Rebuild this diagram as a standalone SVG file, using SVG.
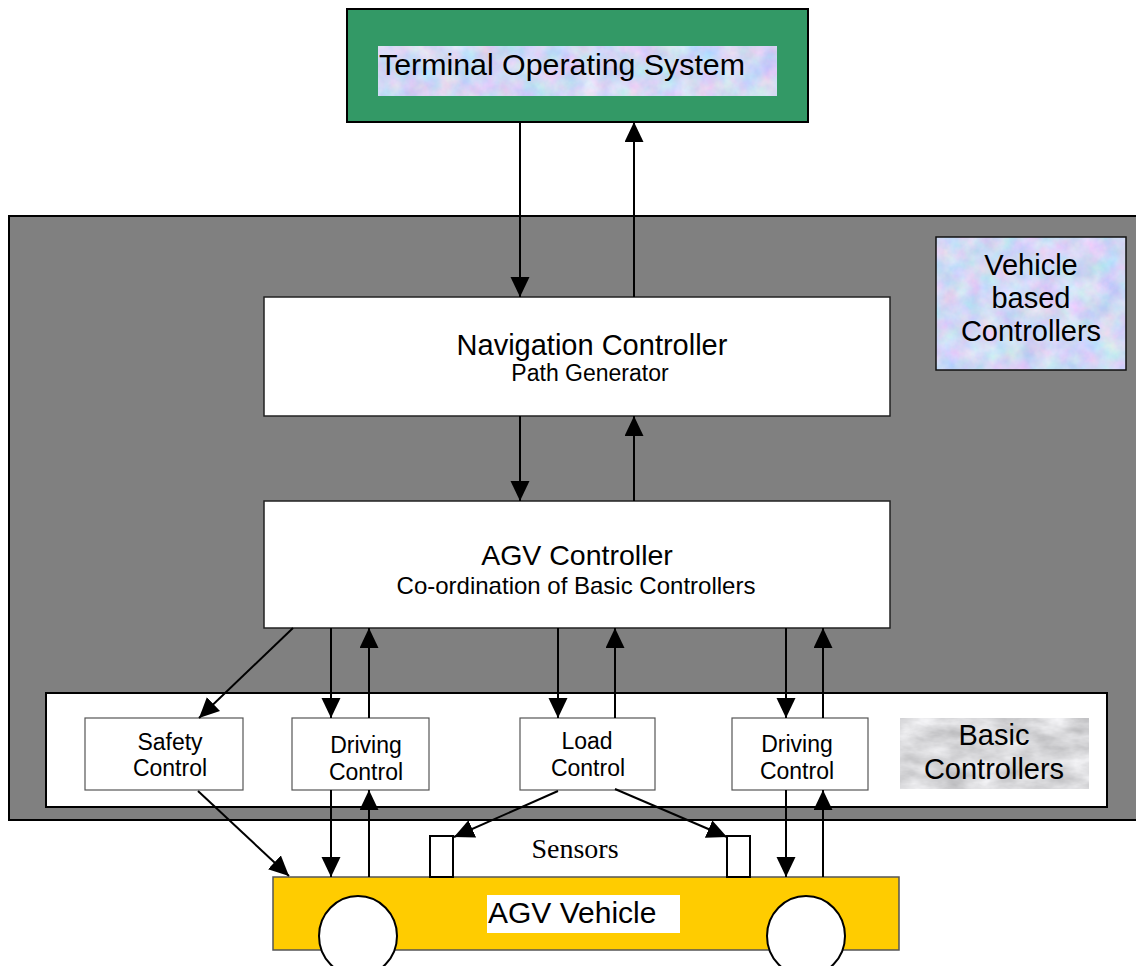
<svg xmlns="http://www.w3.org/2000/svg" width="1136" height="966" viewBox="0 0 1136 966">
  <style>
    .sans { font-family: "Liberation Sans", Arial, sans-serif; fill: #000; }
    .serif { font-family: "Liberation Serif", "Times New Roman", serif; fill: #000; }
    .box { fill: #fff; stroke: #222; stroke-width: 1.5; }
    .small { fill: #fff; stroke: #555; stroke-width: 1.2; }
    .wire { stroke: #000; stroke-width: 2; fill: none; marker-end: url(#head); }
  </style>
  <defs>
    <marker id="head" markerUnits="userSpaceOnUse" markerWidth="20" markerHeight="20" refX="20" refY="9.5" orient="auto">
      <path d="M0,0 L20,9.5 L0,19 Z" fill="#000"/>
    </marker>
    <!-- pastel blue/pink marble -->
    <filter id="pastel" x="0" y="0" width="100%" height="100%" color-interpolation-filters="sRGB">
      <feTurbulence type="fractalNoise" baseFrequency="0.05" numOctaves="4" seed="7" result="n"/>
      <feColorMatrix in="n" type="matrix" values="0.32 0 0 0 0.66  0 0.22 0 0 0.74  0 0 0.12 0 0.9  0 0 0 0 1" result="c"/>
      <feComposite in="c" in2="SourceGraphic" operator="in"/>
    </filter>
    <!-- pale grey stone -->
    <filter id="stone" x="0" y="0" width="100%" height="100%" color-interpolation-filters="sRGB">
      <feTurbulence type="fractalNoise" baseFrequency="0.03 0.07" numOctaves="4" seed="3" result="n"/>
      <feColorMatrix in="n" type="matrix" values="0.3 0 0 0 0.7  0.3 0 0 0 0.7  0.3 0 0 0 0.71  0 0 0 0 1" result="c"/>
      <feComposite in="c" in2="SourceGraphic" operator="in"/>
    </filter>
  </defs>

  <rect width="1136" height="966" fill="#fff"/>

  <!-- terminal operating system -->
  <g id="tos">
    <rect x="347" y="9" width="461" height="113" fill="#339966" stroke="#000" stroke-width="2"/>
    <rect x="378" y="46" width="399" height="50" fill="#fff" filter="url(#pastel)"/>
    <text class="sans" x="379" y="75" font-size="29.5" textLength="366" lengthAdjust="spacingAndGlyphs">Terminal Operating System</text>
  </g>

  <!-- vehicle-based controllers area -->
  <g id="vehicle-panel">
    <rect x="9" y="216" width="1135" height="604" fill="#808080" stroke="#000" stroke-width="2"/>
  </g>

  <g id="vehicle-label">
    <rect x="936" y="237" width="190" height="133" fill="#fff" filter="url(#pastel)"/>
    <rect x="936" y="237" width="190" height="133" fill="none" stroke="#111" stroke-width="1.5"/>
    <text class="sans" x="1031" y="275" font-size="29" text-anchor="middle">Vehicle</text>
    <text class="sans" x="1031" y="308" font-size="29" text-anchor="middle">based</text>
    <text class="sans" x="1031" y="341" font-size="29" text-anchor="middle">Controllers</text>
  </g>

  <g id="navigation-controller">
    <rect class="box" x="264" y="297" width="626" height="119"/>
    <text class="sans" x="592" y="355" font-size="29" text-anchor="middle">Navigation Controller</text>
    <text class="sans" x="590" y="381" font-size="23" text-anchor="middle">Path Generator</text>
  </g>

  <g id="agv-controller">
    <rect class="box" x="264" y="501" width="626" height="127"/>
    <text class="sans" x="577" y="565" font-size="28.5" text-anchor="middle">AGV Controller</text>
    <text class="sans" x="576" y="594" font-size="24" text-anchor="middle">Co-ordination of Basic Controllers</text>
  </g>

  <g id="basic-controllers">
    <rect x="46" y="693" width="1061" height="114" fill="#fff" stroke="#000" stroke-width="2"/>
    <rect x="900" y="718" width="189" height="71" fill="#fff" filter="url(#stone)"/>
    <text class="sans" x="994" y="745" font-size="29" text-anchor="middle">Basic</text>
    <text class="sans" x="994" y="779" font-size="29" text-anchor="middle">Controllers</text>
  </g>

  <g id="safety-control">
    <rect class="small" x="85" y="718" width="158" height="72"/>
    <text class="sans" x="170" y="750" font-size="23" text-anchor="middle">Safety</text>
    <text class="sans" x="170" y="776" font-size="23" text-anchor="middle">Control</text>
  </g>

  <g id="driving-control-1">
    <rect class="small" x="292" y="718" width="137" height="72"/>
    <text class="sans" x="366" y="753" font-size="23" text-anchor="middle">Driving</text>
    <text class="sans" x="366" y="780" font-size="23" text-anchor="middle">Control</text>
  </g>

  <g id="load-control">
    <rect class="small" x="520" y="718" width="135" height="72"/>
    <text class="sans" x="587" y="749" font-size="23" text-anchor="middle">Load</text>
    <text class="sans" x="588" y="776" font-size="23" text-anchor="middle">Control</text>
  </g>

  <g id="driving-control-2">
    <rect class="small" x="732" y="718" width="136" height="72"/>
    <text class="sans" x="797" y="752" font-size="23" text-anchor="middle">Driving</text>
    <text class="sans" x="797" y="779" font-size="23" text-anchor="middle">Control</text>
  </g>

  <g id="agv-vehicle">
    <rect x="273" y="877" width="626" height="73" fill="#ffcc00" stroke="#555" stroke-width="1.5"/>
    <rect x="487" y="895" width="193" height="38" fill="#fff"/>
    <text class="sans" x="488" y="923" font-size="30">AGV Vehicle</text>
    <ellipse cx="358" cy="936" rx="39" ry="40" fill="#fff" stroke="#000" stroke-width="2"/>
    <ellipse cx="806" cy="936" rx="39" ry="40" fill="#fff" stroke="#000" stroke-width="2"/>
  </g>

  <g id="sensors">
    <rect x="430" y="836" width="23" height="41" fill="#fff" stroke="#000" stroke-width="2"/>
    <rect x="727" y="836" width="23" height="41" fill="#fff" stroke="#000" stroke-width="2"/>
    <text class="serif" x="575" y="858" font-size="28" text-anchor="middle">Sensors</text>
  </g>

  <g id="connectors">
    <!-- TOS <-> navigation -->
    <line class="wire" x1="520" y1="122" x2="520" y2="297"/>
    <line class="wire" x1="634" y1="297" x2="634" y2="122"/>
    <!-- navigation <-> AGV controller -->
    <line class="wire" x1="520" y1="416" x2="520" y2="501"/>
    <line class="wire" x1="634" y1="501" x2="634" y2="416"/>
    <!-- AGV controller <-> basic controllers -->
    <line class="wire" x1="293" y1="628" x2="199" y2="718"/>
    <line class="wire" x1="331" y1="628" x2="331" y2="718"/>
    <line class="wire" x1="369" y1="718" x2="369" y2="628"/>
    <line class="wire" x1="558" y1="628" x2="558" y2="718"/>
    <line class="wire" x1="615" y1="718" x2="615" y2="628"/>
    <line class="wire" x1="786" y1="628" x2="786" y2="718"/>
    <line class="wire" x1="823" y1="718" x2="823" y2="628"/>
    <!-- basic controllers <-> vehicle -->
    <line class="wire" x1="198" y1="791" x2="289" y2="876"/>
    <line class="wire" x1="331" y1="790" x2="331" y2="877"/>
    <line class="wire" x1="369" y1="877" x2="369" y2="790"/>
    <line class="wire" x1="558" y1="791" x2="454" y2="837"/>
    <line class="wire" x1="615" y1="789" x2="727" y2="837"/>
    <line class="wire" x1="786" y1="790" x2="786" y2="877"/>
    <line class="wire" x1="823" y1="877" x2="823" y2="790"/>
  </g>
</svg>
